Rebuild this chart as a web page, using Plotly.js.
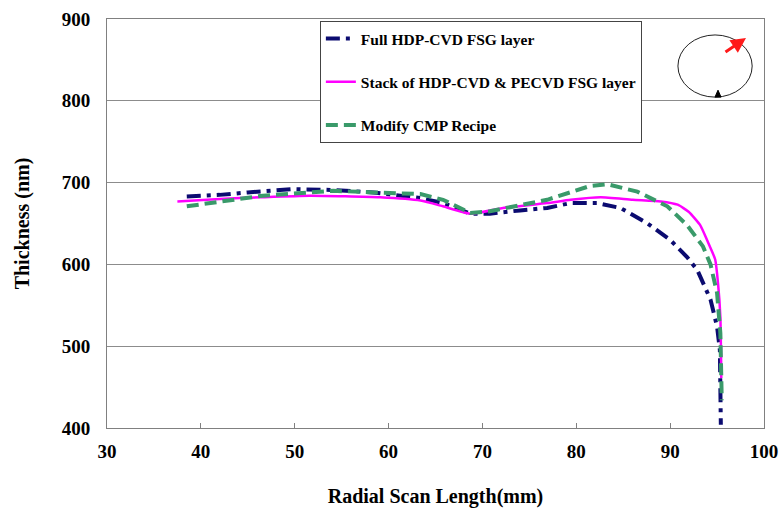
<!DOCTYPE html>
<html>
<head>
<meta charset="utf-8">
<script src="https://cdn.plot.ly/plotly-3.0.1.min.js"></script>
<style>
html,body{margin:0;padding:0;background:#fff;}
#chart{width:784px;height:515px;}
</style>
</head>
<body>
<div id="chart"></div>
<script>
// Series names
const seriesNames = ["Full HDP-CVD FSG layer", "Stack of HDP-CVD & PECVD FSG layer", "Modify CMP Recipe"];

// Full HDP-CVD FSG layer
const fullX = [38.5, 42, 45, 49.8, 54.1, 58.4, 63.4, 65.8, 68.7, 70.8, 74.0, 76.9, 79.4, 82.2, 84.7, 87.6, 90.0, 91.8, 92.9, 94.3, 95.0, 95.3, 95.4];
const fullY = [683, 685, 688, 692, 691, 688, 681, 675, 662, 662, 666, 669, 675, 675, 669, 650, 630, 609, 593, 557, 524, 495, 404];

// Stack of HDP-CVD & PECVD FSG layer
const stackX = [37.5, 42, 46.3, 51.6, 59.1, 63.4, 65.8, 68.7, 72.2, 76.9, 79.4, 82.6, 86, 89.0, 90.8, 92.0, 93.2, 94.0, 94.8, 95.1, 95.35, 95.45];
const stackY = [677, 680, 682, 684, 682, 678, 671, 662, 669, 675, 679, 682, 679, 677, 673, 664, 648, 628, 606, 577, 536, 461];

// Modify CMP Recipe
const cmpX = [38.5, 43.1, 46.6, 50.3, 54.1, 58.4, 63.4, 65.8, 67.6, 68.7, 70.8, 73.0, 76.9, 81.5, 83.3, 86.5, 89.7, 91.8, 93.5, 94.3, 95.0, 95.35, 95.5];
const cmpY = [671, 678, 684, 687, 690, 688, 686, 679, 669, 663, 665, 670, 679, 696, 698, 689, 671, 648, 622, 600, 565, 516, 434];

// Axis ticks
const xTicks = [30, 40, 50, 60, 70, 80, 90, 100];
const yTicks = [400, 500, 600, 700, 800, 900];

const serif = "'Liberation Serif', 'Times New Roman', serif";

const traces = [
  {x: fullX, y: fullY, name: seriesNames[0], mode: "lines", legendgroup: "a",
   line: {color: "#0b0b70", width: 4, dash: "14px,6px,4px,6px"}},
  {x: stackX, y: stackY, name: seriesNames[1], mode: "lines", legendgroup: "b",
   line: {color: "#ff00ff", width: 2.5, shape: "spline", smoothing: 0.5}},
  {x: cmpX, y: cmpY, name: seriesNames[2], mode: "lines", legendgroup: "c",
   line: {color: "#3a9a6a", width: 4, dash: "12px,6px"}}
];

const layout = {
  width: 784, height: 515,
  margin: {l: 107, r: 20, t: 19, b: 87},
  paper_bgcolor: "#fff", plot_bgcolor: "#fff",
  font: {family: serif, color: "#000"},
  showlegend: true,
  legend: {
    x: 0.324, y: 0.995, xanchor: "left", yanchor: "top",
    bgcolor: "#fff", bordercolor: "#444", borderwidth: 1,
    font: {family: serif, size: 15.5, color: "#000", weight: "bold"},
    tracegroupgap: 20,
    traceorder: "grouped"
  },
  xaxis: {
    range: [30, 100], tickvals: xTicks, ticktext: xTicks.map(String),
    ticks: "inside", ticklen: 5, tickcolor: "#808080",
    showgrid: false, zeroline: false,
    showline: true, linecolor: "#808080", linewidth: 1, mirror: true,
    tickfont: {family: serif, size: 19, weight: "bold"},
    ticklabelstandoff: 6,
    title: {text: "Radial Scan Length(mm)", font: {family: serif, size: 20, weight: "bold"}, standoff: 28}
  },
  yaxis: {
    range: [400, 900], tickvals: yTicks, ticktext: yTicks.map(String),
    ticks: "", showgrid: true, gridcolor: "#8c8c8c", gridwidth: 1, zeroline: false,
    showline: true, linecolor: "#808080", linewidth: 1, mirror: true,
    tickfont: {family: serif, size: 19, weight: "bold"},
    ticklabelstandoff: 12,
    title: {text: "Thickness (nm)", font: {family: serif, size: 20, weight: "bold"}, standoff: 26}
  },
  shapes: [
    {type: "circle", xref: "paper", yref: "paper", x0: 0.869, x1: 0.982, y0: 0.809, y1: 0.961,
     line: {color: "#222", width: 1}},
    {type: "path", xref: "paper", yref: "paper",
     path: "M 0.9254 0.809 L 0.9346 0.809 L 0.930 0.826 Z",
     fillcolor: "#000", line: {color: "#000", width: 1}}
  ],
  annotations: [
    {xref: "paper", yref: "paper", x: (746 - 107) / 657, y: (428 - 38) / 409,
     ax: -22, ay: 15, showarrow: true, arrowhead: 2, arrowsize: 1, arrowwidth: 3,
     arrowcolor: "#ff1a1a", text: ""}
  ]
};

Plotly.newPlot("chart", traces, layout, {displayModeBar: false, staticPlot: true});
</script>
</body>
</html>
